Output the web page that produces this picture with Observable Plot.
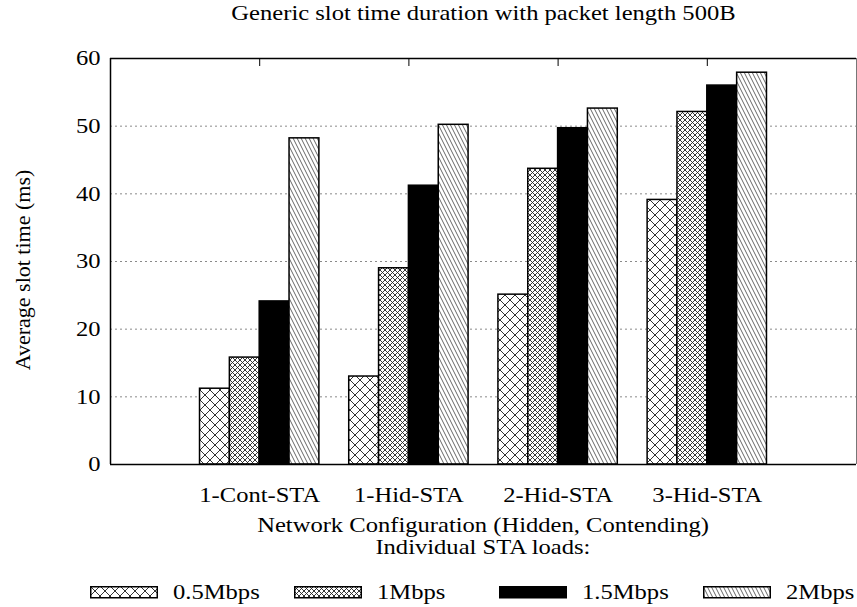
<!DOCTYPE html>
<html>
<head>
<meta charset="utf-8">
<script src="https://cdn.jsdelivr.net/npm/d3@7"></script>
<script src="https://cdn.jsdelivr.net/npm/@observablehq/plot@0.6"></script>
<style>
  body { margin: 0; background: #fff; color: #000; font-family: "Liberation Serif", "Times New Roman", serif; }
  #page { position: relative; width: 857px; height: 607px; overflow: hidden; }
  #page svg.chart { position: absolute; left: 0; top: 40px; }
  .t { position: absolute; white-space: nowrap; font-size: 21px; line-height: 21px; }
  .wide { display: inline-block; transform: scaleX(1.17); }
</style>
</head>
<body>
<div id="page"></div>
<script>
// Average slot time (ms) per network configuration and per-station load
const categories = ["1-Cont-STA", "1-Hid-STA", "2-Hid-STA", "3-Hid-STA"];
const loads = ["0.5Mbps", "1Mbps", "1.5Mbps", "2Mbps"];
const slot05 = [11.2, 13.0, 25.1, 39.1];
const slot1 = [15.8, 29.0, 43.7, 52.1];
const slot15 = [24.1, 41.2, 49.7, 56.0];
const slot2 = [48.2, 50.2, 52.6, 57.9];
const yTicks = [0, 10, 20, 30, 40, 50, 60];
const gridTicks = [10, 20, 30, 40, 50];

const title = "Generic slot time duration with packet length 500B";
const yLabel = "Average slot time (ms)";
const xLabel1 = "Network Configuration (Hidden, Contending)";
const xLabel2 = "Individual STA loads:";

const series = [slot05, slot1, slot15, slot2];
const fills = ["url(#hatch-cross-wide)", "url(#hatch-cross-fine)", "#000", "url(#hatch-diag)"];

// one row per bar; categories sit at 1..4 on a 0..5 axis, bars share 0.8 of a slot
const barW = 0.2;
const rows = categories.flatMap((c, ci) =>
  loads.map((l, si) => ({category: c, load: l, ci, si, value: series[si][ci]}))
);
const left = d => d.ci + 1 - (loads.length * barW) / 2 + d.si * barW;

const page = document.getElementById("page");

const chart = Plot.plot({
  width: 857,
  height: 470,
  marginLeft: 110,
  marginRight: 1,
  marginTop: 18,
  marginBottom: 46,
  style: {fontFamily: "Liberation Serif, Times New Roman, serif", fontSize: "21px", color: "#000", background: "#fff"},
  x: {domain: [0, 5]},
  y: {domain: [0, 60]},
  color: {domain: loads, range: fills},
  marks: [
    Plot.ruleY(gridTicks, {stroke: "#8a8a8a", strokeWidth: 1, strokeDasharray: "2,3"}),
    Plot.rect(rows, {
      x1: left,
      x2: d => left(d) + barW,
      y1: 0,
      y2: "value",
      fill: "load",
      stroke: "#000",
      strokeWidth: 1.5
    }),
    Plot.ruleY([0, 60], {stroke: "#000", strokeWidth: 1.5}),
    Plot.ruleX([0], {stroke: "#000", strokeWidth: 1.5}),
    Plot.ruleX([5], {stroke: "#777", strokeWidth: 1}),
    Plot.axisY({ticks: yTicks, tickSize: 0, tickPadding: 10, label: null, fontSize: 21}),
    Plot.axisX({
      anchor: "bottom",
      ticks: [1, 2, 3, 4],
      tickFormat: i => categories[i - 1],
      tickSize: 0,
      tickPadding: 23,
      label: null,
      fontSize: 21
    }),
    // short inward ticks along the top edge
    Plot.axisX({
      anchor: "top",
      ticks: [1, 2, 3, 4],
      tickFormat: () => "",
      tickSize: 7,
      dy: 7,
      label: null
    })
  ]
});
chart.classList.add("chart");

// hatch patterns used as bar fills
const defs = `
<defs>
  <pattern id="hatch-cross-wide" patternUnits="userSpaceOnUse" width="10" height="10">
    <rect width="10" height="10" fill="#fff"/>
    <path d="M0,0L10,10M-10,0L0,10M10,0L20,10M10,0L0,10M0,0L-10,10M20,0L10,10" stroke="#333" stroke-width="1"/>
  </pattern>
  <pattern id="hatch-cross-fine" patternUnits="userSpaceOnUse" width="5" height="5">
    <rect width="5" height="5" fill="#fff"/>
    <path d="M0,0L5,5M-5,0L0,5M5,0L10,5M5,0L0,5M0,0L-5,5M10,0L5,5" stroke="#222" stroke-width="0.9"/>
  </pattern>
  <pattern id="hatch-diag" patternUnits="userSpaceOnUse" width="4" height="8">
    <rect width="4" height="8" fill="#fff"/>
    <path d="M0,0L4,8M-4,0L0,8M4,0L8,8" stroke="#555" stroke-width="0.9"/>
  </pattern>
</defs>`;
chart.insertAdjacentHTML("afterbegin", defs);

// widen the axis lettering a little around its horizontal anchor
const sx = 1.17;
chart.querySelectorAll("text").forEach(t => {
  const x = parseFloat(t.getAttribute("x")) || 0;
  const tr = t.getAttribute("transform") || "";
  t.setAttribute("transform", `${tr} translate(${x},0) scale(${sx},1) translate(${-x},0)`);
});

page.appendChild(chart);

function addText(str, {left, top, width, align = "center", origin = "center"}) {
  const d = document.createElement("div");
  d.className = "t";
  d.style.left = left + "px";
  d.style.top = top + "px";
  if (width != null) d.style.width = width + "px";
  d.style.textAlign = align;
  const s = document.createElement("span");
  s.className = "wide";
  s.style.transformOrigin = origin;
  s.textContent = str;
  d.appendChild(s);
  page.appendChild(d);
  return d;
}

// title and axis captions
addText(title, {left: 110, top: 3, width: 746});
addText(xLabel1, {left: 110, top: 515, width: 746});
addText(xLabel2, {left: 110, top: 537, width: 746});

const yl = document.createElement("div");
yl.className = "t";
yl.textContent = yLabel;
yl.style.fontSize = "22px";
yl.style.left = "22px";
yl.style.top = "270px";
yl.style.transform = "translate(-50%, -50%) rotate(-90deg)";
page.appendChild(yl);

// legend: patterned swatch followed by its load label
loads.forEach((l, i) => {
  const x0 = 90 + i * 204.3;
  const sw = document.createElementNS("http://www.w3.org/2000/svg", "svg");
  sw.setAttribute("width", 68);
  sw.setAttribute("height", 13);
  sw.style.position = "absolute";
  sw.style.left = x0 + "px";
  sw.style.top = "586px";
  const r = document.createElementNS("http://www.w3.org/2000/svg", "rect");
  r.setAttribute("x", 0.75);
  r.setAttribute("y", 0.75);
  r.setAttribute("width", 66.5);
  r.setAttribute("height", 11);
  r.setAttribute("fill", fills[i]);
  r.setAttribute("stroke", "#000");
  r.setAttribute("stroke-width", 1.5);
  sw.appendChild(r);
  page.appendChild(sw);
  addText(l, {left: x0 + 83, top: 582, align: "left", origin: "left"});
});
</script>
</body>
</html>
